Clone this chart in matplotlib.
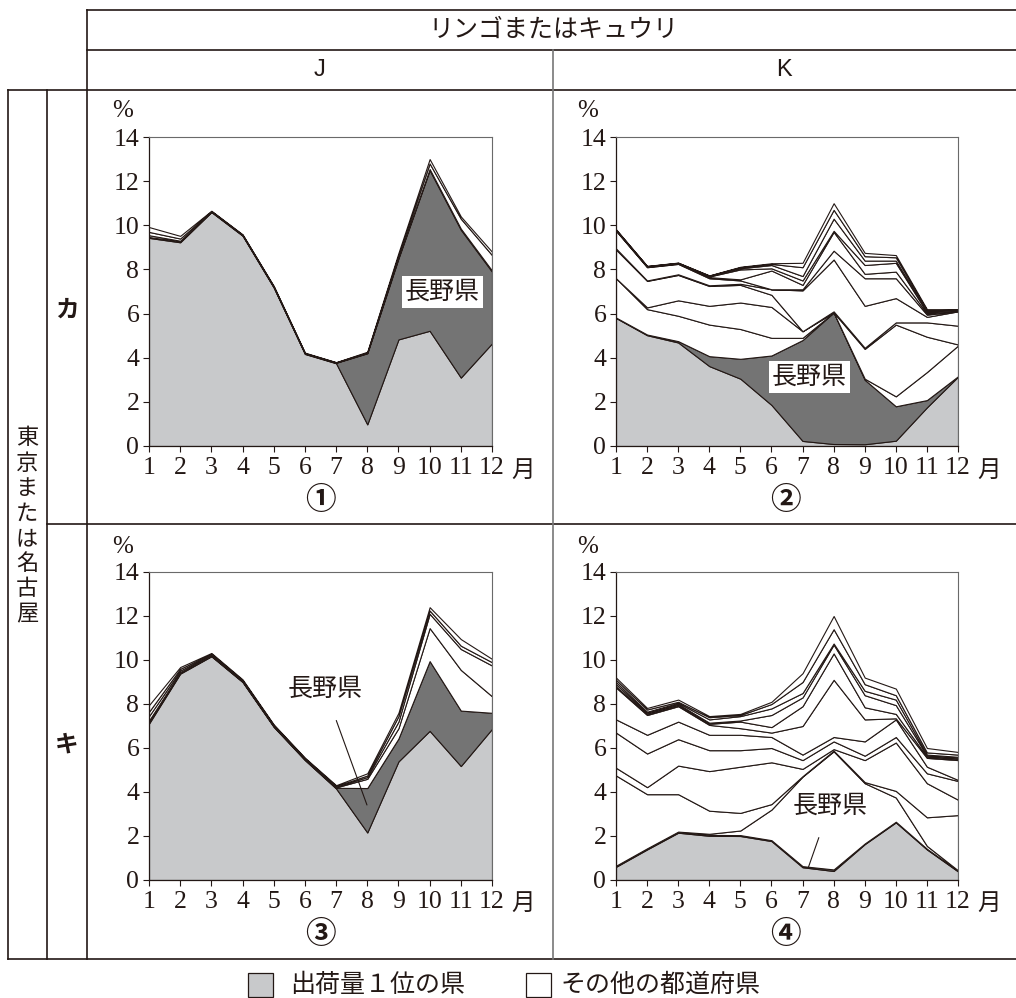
import numpy as np
import matplotlib.pyplot as plt
from matplotlib.lines import Line2D

W, H = 1016, 998
INK = '#231815'
GRAY = '#c8c9cb'
DARK = '#747474'
JP = ['Noto Sans CJK JP', 'DejaVu Sans']
SERIF = 'Liberation Serif'

months = np.arange(1, 13)

# ① J / カ
p1_top = np.array([9.43, 9.23, 10.60, 9.53, 7.18, 4.17, 3.75, 0.98, 4.83, 5.22, 3.10, 4.65])
p1_nagano = np.array([0.04, 0.04, 0.02, 0.02, 0.02, 0.02, 0.02, 3.22, 3.67, 7.28, 6.70, 3.25])
p1_lines = [
    [9.55, 9.30, 10.63, 9.56, 7.21, 4.20, 3.78, 4.22, 8.55, 12.55, 9.85, 7.95],
    [9.70, 9.40, 10.64, 9.57, 7.23, 4.21, 3.79, 4.24, 8.65, 12.80, 10.30, 8.65],
    [9.92, 9.52, 10.66, 9.59, 7.25, 4.23, 3.80, 4.27, 8.75, 13.00, 10.40, 8.80],
]

# ② K / カ
p2_top = np.array([5.80, 5.02, 4.69, 3.62, 3.05, 1.86, 0.23, 0.09, 0.08, 0.24, 1.75, 3.14])
p2_nagano = np.array([0.02, 0.03, 0.06, 0.45, 0.90, 2.24, 4.57, 5.96, 2.92, 1.56, 0.33, 0.02])
p2_lines = [
    [7.60, 6.20, 5.90, 5.50, 5.30, 4.90, 4.90, 6.05, 3.05, 2.25, 3.35, 4.55],
    [7.60, 6.28, 6.60, 6.35, 6.50, 6.30, 5.20, 6.05, 4.40, 5.50, 4.95, 4.60],
    [8.90, 7.48, 7.75, 7.25, 7.30, 6.85, 5.20, 6.10, 4.45, 5.60, 5.60, 5.45],
    [8.95, 7.50, 7.78, 7.28, 7.35, 7.10, 7.05, 8.45, 6.35, 6.70, 5.85, 6.10],
    [9.75, 8.10, 8.25, 7.60, 7.50, 7.10, 7.10, 8.85, 7.60, 7.60, 5.95, 6.10],
    [9.77, 8.12, 8.27, 7.65, 7.55, 7.95, 7.30, 9.70, 7.80, 7.90, 6.00, 6.12],
    [9.78, 8.13, 8.28, 7.68, 8.00, 8.05, 7.50, 9.75, 8.20, 8.30, 6.05, 6.13],
    [9.79, 8.14, 8.29, 7.70, 8.05, 8.20, 7.70, 10.30, 8.40, 8.40, 6.10, 6.15],
    [9.80, 8.15, 8.30, 7.72, 8.10, 8.25, 8.10, 10.70, 8.60, 8.55, 6.15, 6.17],
    [9.82, 8.16, 8.31, 7.73, 8.12, 8.28, 8.30, 11.00, 8.75, 8.65, 6.20, 6.20],
]

# ③ J / キ
p3_top = np.array([7.11, 9.38, 10.17, 9.00, 6.96, 5.45, 4.16, 2.16, 5.39, 6.78, 5.18, 6.87])
p3_nagano = np.array([0.06, 0.04, 0.02, 0.02, 0.02, 0.02, 0.03, 2.02, 1.04, 3.17, 2.52, 0.73])
p3_lines = [
    [7.25, 9.45, 10.22, 9.04, 7.00, 5.49, 4.21, 4.60, 6.90, 11.45, 9.55, 8.35],
    [7.45, 9.52, 10.25, 9.06, 7.02, 5.51, 4.24, 4.68, 7.20, 12.10, 10.50, 9.75],
    [7.65, 9.60, 10.28, 9.08, 7.04, 5.53, 4.27, 4.75, 7.45, 12.25, 10.65, 9.90],
    [7.95, 9.68, 10.32, 9.12, 7.07, 5.56, 4.31, 4.85, 7.60, 12.40, 10.95, 10.05],
]

# ④ K / キ
p4_top = np.array([0.60, 1.39, 2.15, 2.01, 2.00, 1.77, 0.58, 0.41, 1.63, 2.62, 1.39, 0.39])
p4_nagano = np.array([0.03, 0.03, 0.03, 0.04, 0.04, 0.04, 0.05, 0.07, 0.03, 0.03, 0.03, 0.03])
p4_lines = [
    [0.65, 1.44, 2.20, 2.10, 2.25, 3.20, 4.70, 5.85, 4.40, 3.75, 1.55, 0.44],
    [4.75, 3.90, 3.90, 3.15, 3.05, 3.45, 4.72, 5.88, 4.45, 4.05, 2.85, 2.95],
    [5.10, 4.22, 5.20, 4.95, 5.15, 5.35, 5.05, 5.95, 5.45, 6.25, 4.40, 3.65],
    [6.70, 5.75, 6.40, 5.90, 5.90, 6.00, 5.45, 6.30, 5.65, 6.50, 4.85, 4.50],
    [7.30, 6.60, 7.20, 6.60, 6.60, 6.50, 5.70, 6.50, 6.30, 7.30, 5.15, 4.55],
    [8.75, 7.50, 7.90, 7.05, 6.90, 6.70, 7.00, 9.10, 7.30, 7.35, 5.55, 5.45],
    [8.80, 7.55, 7.95, 7.10, 7.20, 6.95, 7.90, 10.30, 7.85, 7.55, 5.60, 5.50],
    [8.90, 7.60, 8.00, 7.15, 7.25, 7.50, 8.30, 10.70, 8.40, 7.95, 5.65, 5.55],
    [9.00, 7.65, 8.05, 7.30, 7.45, 7.80, 8.50, 10.75, 8.60, 8.20, 5.70, 5.60],
    [9.10, 7.75, 8.10, 7.40, 7.50, 8.00, 9.00, 11.40, 8.90, 8.40, 5.80, 5.70],
    [9.20, 7.82, 8.20, 7.45, 7.55, 8.10, 9.40, 12.00, 9.20, 8.70, 6.00, 5.82],
]


def rect(l, t, r, b):
    return [l / W, 1 - b / H, (r - l) / W, (b - t) / H]


def hline(y, x1, x2, color=INK, lw=1.2):
    fig.add_artist(Line2D([x1 / W, x2 / W], [1 - y / H, 1 - y / H],
                          transform=fig.transFigure, color=color, lw=lw))


def vline(x, y1, y2, color=INK, lw=1.2):
    fig.add_artist(Line2D([x / W, x / W], [1 - y1 / H, 1 - y2 / H],
                          transform=fig.transFigure, color=color, lw=lw))


def ftext(x, y, s, **kw):
    fig.text(x / W, 1 - y / H, s, ha='center', va='center', **kw)


def draw_panel(box, top1, nagano, lines):
    ax = fig.add_axes(rect(*box))
    base = top1 + nagano
    others = np.diff(np.vstack([base] + [np.array(l) for l in lines]), axis=0)
    ax.stackplot(months, top1, nagano, *others,
                 colors=[GRAY, DARK] + ['white'] * len(others),
                 edgecolor=INK, linewidth=0.8)
    ax.set_xlim(1, 12)
    ax.set_ylim(0, 14)
    ax.set_xticks(months)
    ax.set_yticks(range(0, 15, 2))
    ax.tick_params(direction='out', length=4, width=0.8, color=INK,
                   labelsize=18.5, labelcolor=INK, labelfontfamily=SERIF)
    ax.tick_params(axis='x', pad=4)
    ax.tick_params(axis='y', pad=3)
    for side in ['left', 'bottom']:
        ax.spines[side].set_color(INK)
        ax.spines[side].set_linewidth(0.9)
    for side in ['top', 'right']:
        ax.spines[side].set_color('#6a6a6a')
        ax.spines[side].set_linewidth(0.8)
    return ax


fig = plt.figure(figsize=(W / 100, H / 100), dpi=100)

ax1 = draw_panel((149, 137, 492, 446), p1_top, p1_nagano, p1_lines)
ax2 = draw_panel((616, 137, 958, 446), p2_top, p2_nagano, p2_lines)
ax3 = draw_panel((149, 572, 492, 880), p3_top, p3_nagano, p3_lines)
ax4 = draw_panel((616, 572, 958, 880), p4_top, p4_nagano, p4_lines)

box = dict(boxstyle='square,pad=0.12', fc='white', ec='none')
ax1.text(10.40, 6.98, '長野県', family=JP, fontsize=18, color=INK,
         ha='center', va='center', bbox=box)
ax2.text(7.21, 3.13, '長野県', family=JP, fontsize=18, color=INK,
         ha='center', va='center', bbox=box)
ax3.annotate('長野県', xy=(7.99, 3.41), xytext=(6.64, 8.68),
             family=JP, fontsize=18, color=INK, ha='center', va='center',
             arrowprops=dict(arrowstyle='-', color=INK, lw=0.8,
                             shrinkA=12, shrinkB=0))
ax4.annotate('長野県', xy=(7.18, 0.545), xytext=(7.88, 3.36),
             family=JP, fontsize=18, color=INK, ha='center', va='center',
             arrowprops=dict(arrowstyle='-', color=INK, lw=0.8,
                             shrinkA=12, shrinkB=0))

# panel decorations
for px, py in [(123, 111), (588, 111), (123, 547), (588, 547)]:
    ftext(px, py, '%', family=SERIF, fontsize=18, color=INK)
for px, py in [(523, 470), (989, 470), (523, 903), (989, 903)]:
    ftext(px, py, '月', family=JP, fontsize=17, color=INK)
for (px, py), s in zip([(320, 500), (785, 500), (320, 934), (785, 934)],
                       ['①', '②', '③', '④']):
    ftext(px, py, s, family=JP, fontsize=22, fontweight='bold', color=INK)

# table grid
hline(10, 87, W)
hline(50, 87, W)
hline(90, 8, W)
hline(524, 47, W)
hline(959, 8, W)
vline(87, 10, 959)
vline(8, 90, 959)
vline(47, 90, 959)
vline(553, 50, 959, color='#777777')

ftext(553, 30, 'リンゴまたはキュウリ', family=JP, fontsize=18, color=INK)
ftext(320, 70, 'J', family='Liberation Sans', fontsize=17, color=INK)
ftext(784, 70, 'K', family='Liberation Sans', fontsize=17, color=INK)
ftext(67, 310, 'カ', family=JP, fontsize=17, fontweight='bold', color=INK)
ftext(67, 745, 'キ', family=JP, fontsize=17, fontweight='bold', color=INK)
ftext(27, 526, '\n'.join('東京または名古屋'), family=JP, fontsize=16,
      color=INK, linespacing=1.12)

# legend
fig.patches.append(plt.Rectangle((248 / W, 1 - 997 / H), 25 / W, 24 / H,
                                 transform=fig.transFigure, fc=GRAY, ec=INK, lw=0.9))
fig.patches.append(plt.Rectangle((526 / W, 1 - 997 / H), 25 / W, 24 / H,
                                 transform=fig.transFigure, fc='white', ec=INK, lw=0.9))
fig.text(290 / W, 1 - 985 / H, '出荷量１位の県', family=JP, fontsize=18,
         color=INK, ha='left', va='center')
fig.text(560 / W, 1 - 985 / H, 'その他の都道府県', family=JP, fontsize=18,
         color=INK, ha='left', va='center')

fig.savefig('out.png', dpi=100, facecolor='white')
